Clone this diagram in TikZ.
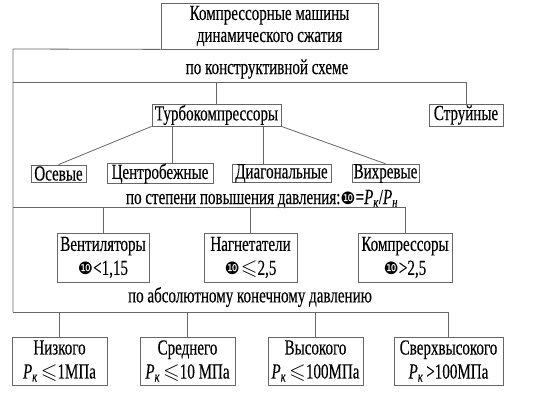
\documentclass[tikz,border=0pt]{standalone}
\usepackage{amssymb}
\usepackage{fontspec}
\setmainfont{Liberation Serif}[FakeStretch=0.7,FakeBold=0.2]
\newfontfamily\dingfont{DejaVu Sans}
\newcommand{\pisym}{{\dingfont\fontsize{17}{17}\selectfont ❿}}
\newcommand{\Pk}{\textit{P}\textsubscript{\textit{к}}}
\newcommand{\Pn}{\textit{P}\textsubscript{\textit{н}}}

\begin{document}
\begin{tikzpicture}[x=1pt,y=-1pt,
  box/.style={draw=black!60,line width=0.8pt,inner sep=0pt,minimum height=22,
    align=center,font=\fontsize{21.5}{24}\selectfont},
  link/.style={draw=black!60,line width=0.8pt},
  title/.style={inner sep=0pt,font=\fontsize{21.5}{24}\selectfont}]
  \fill[white] (0,0) rectangle (560,420);
  \useasboundingbox (0,0) rectangle (560,420);

  % top and kinds
  \node[box,minimum width=217,minimum height=46,font=\fontsize{21.5}{22}\selectfont] (top) at (269.5,26) {Компрессорные машины\\динамического сжатия};
  \node[title] (kind) at (267,69) {по конструктивной схеме};
  \node[box,minimum width=129] (turbo) at (216.5,115) {Турбокомпрессоры};
  \node[box,minimum width=74] (jet) at (466,115) {Струйные};
  \node[box,minimum width=55,minimum height=17] (axial) at (58.5,173.5) {Осевые};
  \node[box,minimum width=106,minimum height=17] (centrif) at (160,173.5) {Центробежные};
  \node[box,minimum width=99,minimum height=17] (diag) at (281.5,173.5) {Диагональные};
  \node[box,minimum width=67,minimum height=17] (vortex) at (385.5,173.5) {Вихревые};

  % pressure ratio
  \node[title] (ratio) at (262,199) {по степени повышения давления:\pisym=\Pk/\Pn};
  \node[box,minimum width=92,minimum height=49] (fan) at (103,257.5) {Вентиляторы\\\pisym<1,15};
  \node[box,minimum width=93,minimum height=49] (blower) at (250.5,257.5) {Нагнетатели\\\pisym\hspace{1pt}$\leqslant$2,5};
  \node[box,minimum width=94,minimum height=49] (comp) at (405,257.5) {Компрессоры\\\pisym>2,5};

  % final pressure
  \node[title] (final) at (250,297) {по абсолютному конечному давлению};
  \node[box,minimum width=95,minimum height=48] (low) at (59.5,361) {Низкого\\\Pk\hspace{3pt}$\leqslant$1МПа};
  \node[box,minimum width=95,minimum height=48] (mid) at (187.5,361) {Среднего\\\Pk\hspace{3pt}$\leqslant$10 МПа};
  \node[box,minimum width=95,minimum height=48] (high) at (315.5,361) {Высокого\\\Pk\hspace{3pt}$\leqslant$100МПа};
  \node[box,minimum width=109,minimum height=48] (ultra) at (448.5,361) {Сверхвысокого\\\Pk\hspace{3pt}>100МПа};

  \coordinate (b1) at (13,49);
  \coordinate (b2) at (13,82);
  \coordinate (b3) at (13,207);
  \coordinate (b4) at (13,312);

  \draw[link] (top.south west) -- (b1) -- (b4);
  \draw[link] (b2) -| (jet.north);
  \draw[link] (turbo.north) -- (turbo.north |- b2);
  \draw[link] (turbo.south west) -- (axial.north);
  \draw[link] (turbo.south east) -- (vortex.north);
  \draw[link] ([xshift=12pt]centrif.north) -- ([xshift=12pt]centrif.north |- turbo.south);
  \draw[link] ([xshift=-18pt]diag.north) -- ([xshift=-18pt]diag.north |- turbo.south);
  \draw[link] (b3) -| (comp.north);
  \draw[link] (fan.north) -- (fan.north |- b3);
  \draw[link] (blower.north) -- (blower.north |- b3);
  \draw[link] (b4) -| (ultra.north);
  \foreach \n in {low,mid,high}
    \draw[link] (\n.north) -- (\n.north |- b4);
\end{tikzpicture}
\end{document}
